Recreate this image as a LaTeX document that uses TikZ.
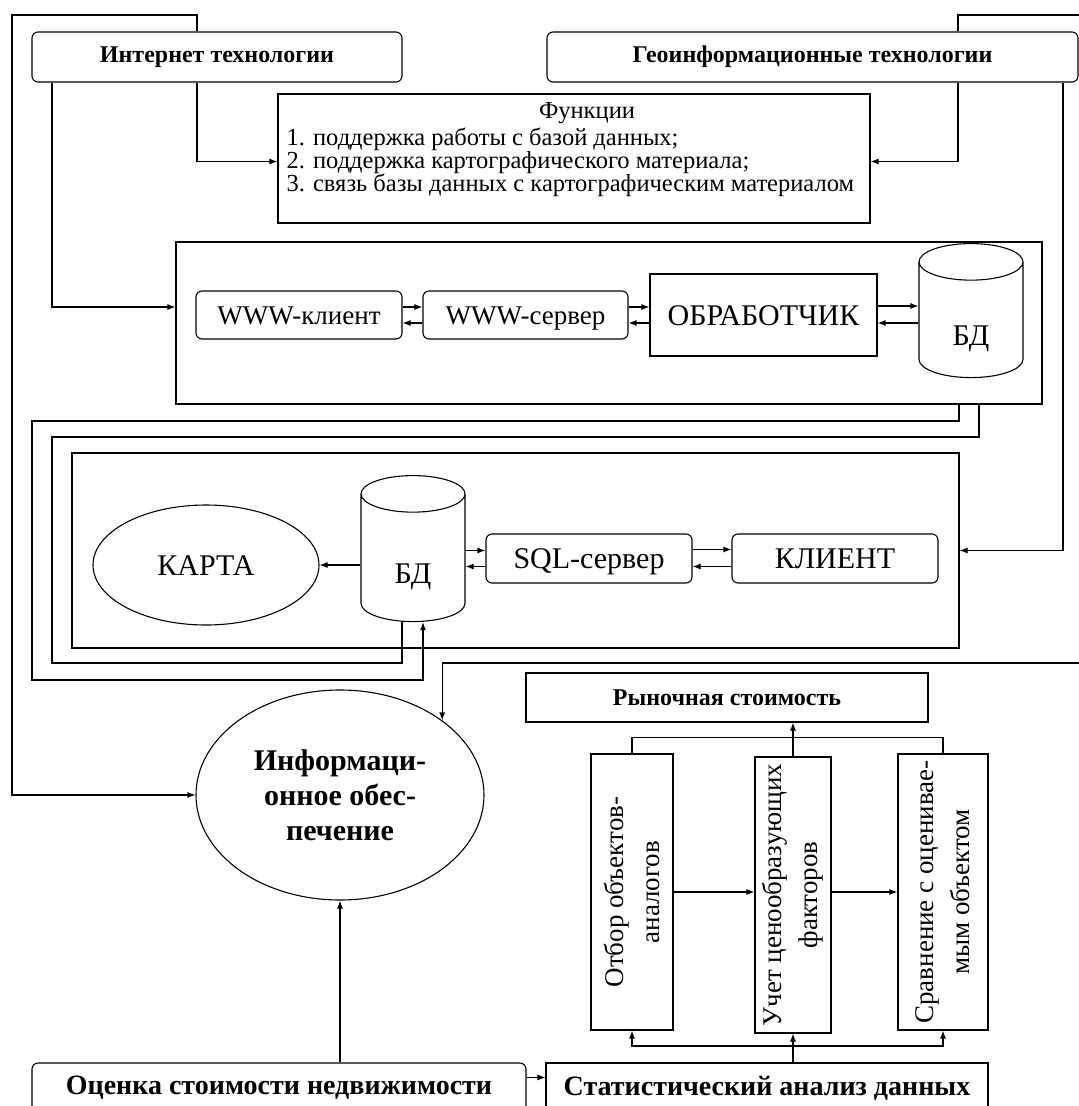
\documentclass[tikz,border=0pt]{standalone}
\usepackage{fontspec}
\setmainfont{Liberation Serif}
\usetikzlibrary{shapes.geometric,arrows.meta}

\newcommand{\hdfont}{\fontsize{24}{28}\selectfont\bfseries}
\newcommand{\txtfont}{\fontsize{24.5}{23}\selectfont\lineskiplimit=-50pt}
\newcommand{\wwwfont}{\fontsize{27}{30}\selectfont}
\newcommand{\bigfont}{\fontsize{30}{34}\selectfont}
\newcommand{\infofont}{\fontsize{30}{35}\selectfont\bfseries}
\newcommand{\botfont}{\fontsize{28}{32}\selectfont\bfseries}
\newcommand{\vertfont}{\fontsize{27}{36}\selectfont\lineskiplimit=-50pt}

\begin{document}
\begin{tikzpicture}
[%%%%%%%%%%%%%%%%%%%%%%%%%%%%%%
x=1pt,y=-1pt,
line width=1.1pt,
box/.style={rectangle,draw=black,line width=1.1pt,inner sep=0pt},
rbox/.style={box,rounded corners=6pt},
db/.style={cylinder,shape border rotate=90,draw=black,line width=1.1pt,aspect=1,inner sep=0pt,
  font=\bigfont,text height=50pt,text depth=0pt},
oval/.style={ellipse,draw=black,line width=1.1pt,inner sep=0pt},
caps/.style={text height=#1,text depth=0pt},
arr/.style={-{Latex[length=8pt,width=6pt]}},
]%%%%%%%%%%%%%%%%%%%%%%%%%%%%%%

\useasboundingbox (0,0) rectangle (1079,1106);
\clip (0,0) rectangle (1079,1106);

% top row
\node[rbox,minimum width=370,minimum height=50,font=\hdfont] (inet) at (217,57) {Интернет технологии};
\node[rbox,minimum width=531,minimum height=50,font=\hdfont] (geo) at (812.5,57) {Геоинформационные технологии};

\node[box,minimum width=592,minimum height=129] (func) at (574,158.5) {};
\node[font=\txtfont] (fhead) at (587,113) {Функции};
\node[font=\txtfont,align=left,anchor=west,inner sep=0pt] (flist) at (286,162)
{1. поддержка работы с базой данных;\\
2. поддержка картографического материала;\\
3. связь базы данных с картографическим материалом};

% internet part
\node[box,minimum width=866,minimum height=162] (mid) at (609,323) {};
\node[rbox,minimum width=206,minimum height=48,font=\wwwfont,caps=18pt] (wwwc) at (299,315) {WWW-клиент};
\node[rbox,minimum width=205,minimum height=48,font=\wwwfont,caps=18pt] (wwws) at (525.5,315) {WWW-сервер};
\node[box,minimum width=227,minimum height=82,font=\bigfont,caps=20pt] (proc) at (763.5,315) {ОБРАБОТЧИК};
\node[db,minimum width=104,minimum height=134] (bd1) at (971,320) {БД};

% gis part
\node[box,minimum width=887,minimum height=195] (low) at (515.5,550.5) {};
\node[oval,minimum width=226,minimum height=120,font=\bigfont,caps=20pt] (map) at (206,565) {КАРТА};
\node[db,minimum width=104,minimum height=146] (bd2) at (413,558) {БД};
\node[rbox,minimum width=206,minimum height=49,font=\bigfont,caps=20pt] (sql) at (589,558.5) {SQL-сервер};
\node[rbox,minimum width=206,minimum height=49,font=\bigfont,caps=20pt] (cli) at (835,558.5) {КЛИЕНТ};

% bottom part
\node[oval,minimum width=288,minimum height=210,font=\infofont,align=center] (info) at (340,795)
{Информаци-\\онное обес-\\печение};
\node[box,minimum width=402,minimum height=49,font=\hdfont] (mkt) at (727,697.5) {Рыночная стоимость};
\node[box,minimum width=82,minimum height=276] (v1) at (632,892) {};
\node[box,minimum width=76,minimum height=276] (v2) at (793,895) {};
\node[box,minimum width=90,minimum height=276] (v3) at (943,892) {};
\node[rotate=90,font=\vertfont,align=center] (t1) at (v1) {Отбор объектов-\\аналогов};
\node[rotate=90,font=\vertfont,align=center] (t2) at (v2) {Учет ценообразующих\\факторов};
\node[rotate=90,font=\vertfont,align=center] (t3) at (v3) {Сравнение с оценивае-\\мым объектом};
\node[rbox,minimum width=494,minimum height=50,font=\botfont] (eval) at (279,1088) {Оценка стоимости недвижимости};
\node[box,minimum width=442,minimum height=50,font=\botfont] (stat) at (767,1088) {Статистический анализ данных};

\coordinate (bus) at (0,1046);

% arrows inside boxes
\draw[arr] ([yshift=8]wwwc.east) -- ([yshift=8]wwws.west);
\draw[arr] ([yshift=-8]wwws.west) -- ([yshift=-8]wwwc.east);
\draw[arr] ([yshift=8]wwws.east) -- ([yshift=8]wwws.east -| proc.west);
\draw[arr] ([yshift=-8]wwws.east -| proc.west) -- ([yshift=-8]wwws.east);
\draw[arr] ([yshift=9]proc.east) -- ([yshift=9]proc.east -| bd1.west);
\draw[arr] ([yshift=-8]proc.east -| bd1.west) -- ([yshift=-8]proc.east);
\draw[arr] (bd2.west |- map.east) -- (map.east);
\draw[arr] ([yshift=8]sql.west -| bd2.east) -- ([yshift=8]sql.west);
\draw[arr] ([yshift=-8]sql.west) -- ([yshift=-8]sql.west -| bd2.east);
\draw[arr] ([yshift=9]sql.east) -- ([yshift=9]cli.west);
\draw[arr] ([yshift=-8]cli.west) -- ([yshift=-8]sql.east);

% internet technologies
\draw[arr] ([xshift=-20]inet.north) |- (12,15) |- (info.west);
\draw[arr] ([xshift=-20]inet.south) |- ([yshift=-3]func.west);
\draw[arr] ([xshift=-165]inet.south) |- ([yshift=16]mid.west);

% geo technologies
\draw ([xshift=145.5]geo.north) |- (1085,15);
\draw[arr] ([xshift=145.5]geo.south) |- ([yshift=-3]func.east);
\draw[arr] ([xshift=250.5]geo.south) |- (low.east);

% links between the two parts
\draw[arr] ([xshift=350]mid.south) |- (32,421) |- (423,680) -- ([xshift=10]bd2.south);
\draw ([xshift=370]mid.south) |- (52,437) |- (402,663) -- ([xshift=-11]bd2.south);
\draw[arr] (1085,663) -| (info.north east);

% valuation
\draw[arr] (info.south |- eval.north) -- (info.south);
\draw[arr] ([yshift=-15]eval.north east) -- ([yshift=-15]stat.north west);
\draw[arr] (v2.south |- stat.north) -- (v2.south);
\draw[arr] (v2.south |- bus) -| (v1.south);
\draw[arr] (v2.south |- bus) -| (v3.south);
\draw[arr] (v1.east) -- (v1.east -| v2.west);
\draw[arr] (v2.east |- v1.east) -- (v3.west |- v1.east);
\draw (v1.north) -- ++(0,-16) -| (v3.north);
\draw[arr] (v2.north) -- (v2.north |- mkt.south);
\end{tikzpicture}
\end{document}
